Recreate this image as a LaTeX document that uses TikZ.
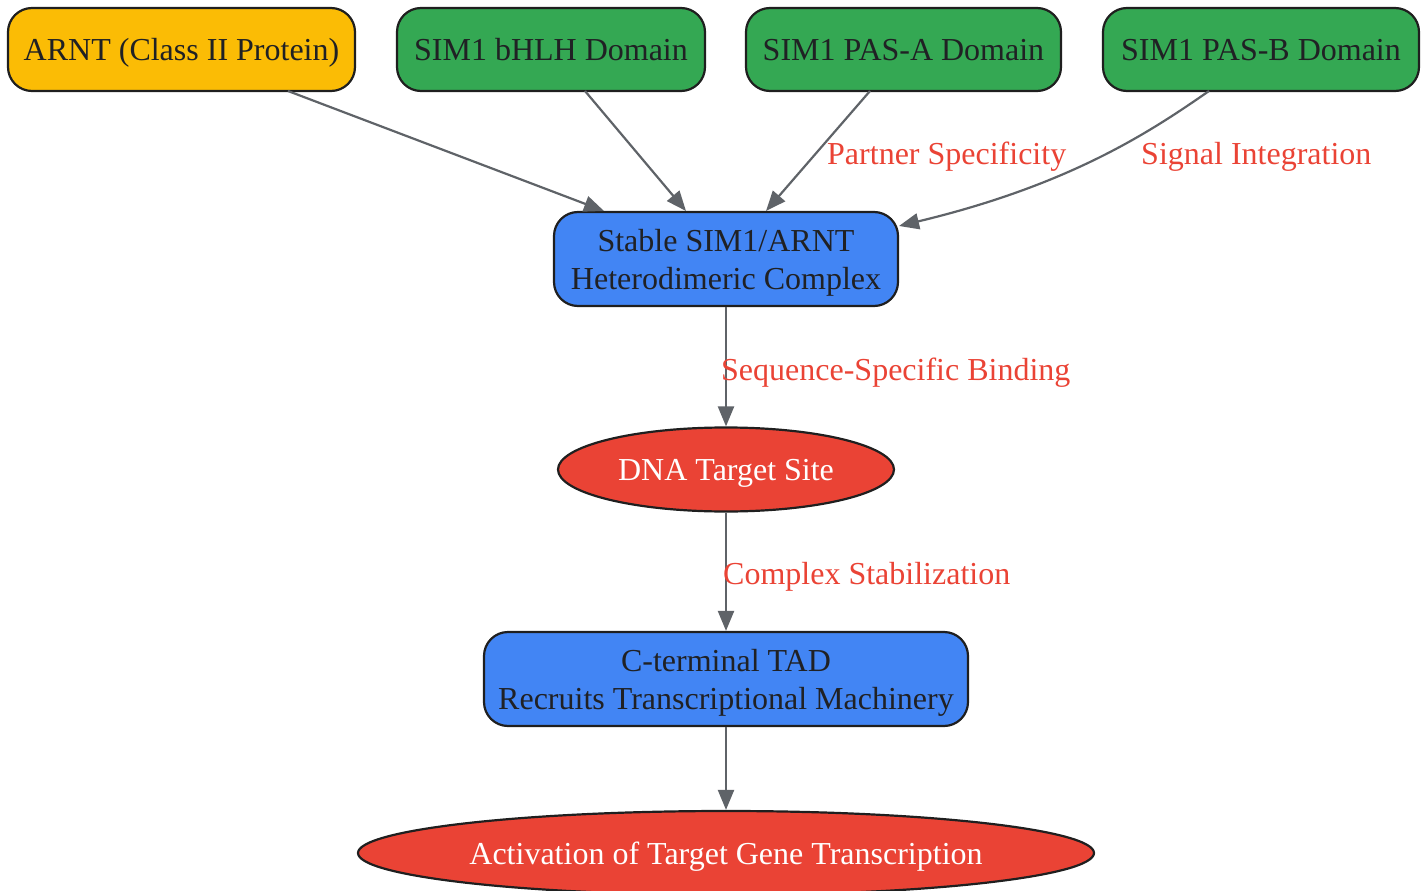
\documentclass[tikz,border=0pt]{standalone}
\usepackage{fontspec}
\setmainfont{Liberation Serif}
\usetikzlibrary{arrows.meta,shapes.geometric}
\definecolor{cyel}{HTML}{FBBC05}
\definecolor{cgrn}{HTML}{34A853}
\definecolor{cblu}{HTML}{4285F4}
\definecolor{cred}{HTML}{EA4335}
\definecolor{cedge}{HTML}{5F6368}
\definecolor{ctxt}{HTML}{202124}
\definecolor{cbord}{HTML}{1F1F1F}
\tikzset{
  base/.style={draw=cbord, line width=2.2pt, text=ctxt, font=\fontsize{32}{38}\selectfont, align=center, inner sep=0pt, text depth=0pt},
  rbox/.style={base, rectangle, rounded corners=24pt},
  ell/.style={base, ellipse, fill=cred, text=white},
  edge/.style={draw=cedge, line width=2.2pt, -{Triangle[length=20pt,width=16pt]}},
  elab/.style={text=cred, font=\fontsize{32}{38}\selectfont, inner sep=0pt}
}
\begin{document}
\begin{tikzpicture}[x=1pt,y=-1pt]
\useasboundingbox (0,0) rectangle (1428,891);
\node[rbox, fill=cyel, minimum width=347pt, minimum height=83pt] (arnt) at (181.5,49.5) {ARNT (Class II Protein)};
\node[rbox, fill=cgrn, minimum width=308pt, minimum height=83pt] (bhlh) at (551,49.5) {SIM1 bHLH Domain};
\node[rbox, fill=cgrn, minimum width=315pt, minimum height=83pt] (pasa) at (903.5,49.5) {SIM1 PAS-A Domain};
\node[rbox, fill=cgrn, minimum width=316pt, minimum height=83pt] (pasb) at (1261,49.5) {SIM1 PAS-B Domain};
\node[rbox, fill=cblu, minimum width=344pt, minimum height=94pt] (stable) at (726,259) {Stable SIM1/ARNT\\Heterodimeric Complex};
\node[ell, minimum width=336pt, minimum height=84pt] (dna) at (726,469.5) {DNA Target Site};
\node[rbox, fill=cblu, minimum width=484pt, minimum height=94pt] (tad) at (726,679) {C-terminal TAD\\Recruits Transcriptional Machinery};
\node[ell, minimum width=736pt, minimum height=84pt] (act) at (726,853) {Activation of Target Gene Transcription};

\coordinate (a1) at (288,91);
\coordinate (a2) at (604,211);
\coordinate (b1) at (585,91);
\coordinate (b2) at (686,211);
\coordinate (c1) at (870,91);
\coordinate (c2) at (766,211);
\coordinate (d1) at (1209,91);
\coordinate (d2) at (899,226);
\draw[edge] (a1) -- (a2);
\draw[edge] (b1) -- (b2);
\draw[edge] (c1) -- (c2);
\draw[edge] (d1) .. controls (1150,132) and (1070,185) .. (d2);
\draw[edge] (stable) -- (dna);
\draw[edge] (dna) -- (tad);
\draw[edge] (tad) -- (act);

\node[elab, anchor=west] (l1) at (827,157) {Partner Specificity};
\node[elab, anchor=west] (l2) at (1141,157) {Signal Integration};
\node[elab, anchor=west] (l3) at (721,373) {Sequence-Specific Binding};
\node[elab, anchor=west] (l4) at (723,577) {Complex Stabilization};
\end{tikzpicture}
\end{document}
